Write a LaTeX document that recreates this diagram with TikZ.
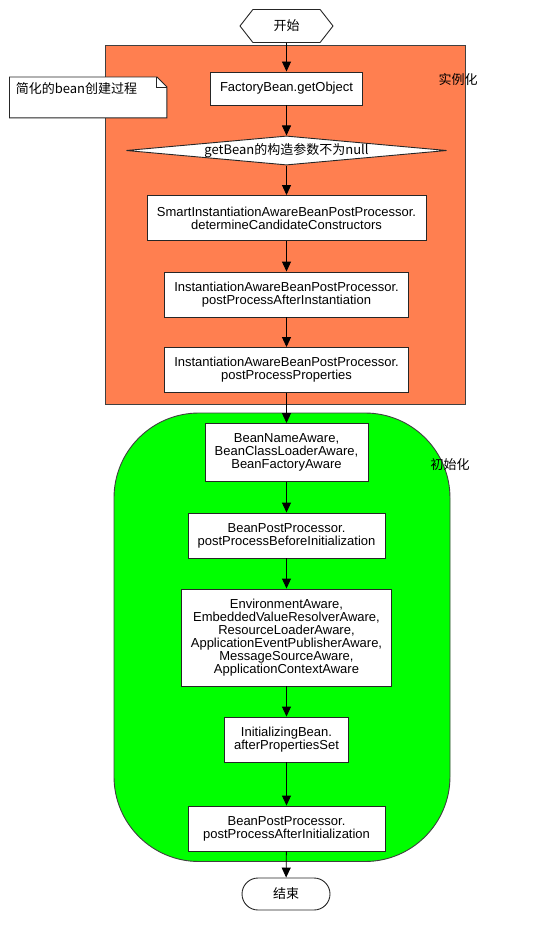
\documentclass[tikz,border=0pt]{standalone}
\usepackage{fontspec}
\setmainfont{Liberation Sans}
\newfontfamily\cjk{Noto Sans CJK SC}
\usetikzlibrary{arrows.meta,shapes.geometric,shapes.symbols,calc}
\definecolor{instorange}{RGB}{255,127,80}
\definecolor{initgreen}{RGB}{0,255,0}

\begin{document}
\begin{tikzpicture}[x=1pt, y=-1pt, >={Triangle[length=10pt,width=9pt]}, font=\fontsize{13}{13}\selectfont, line width=0.9pt]
  \tikzstyle{stepbox}=[draw=black!85, fill=white, align=center, inner sep=0pt]
  \tikzstyle{phase}=[draw=black!75]
  \useasboundingbox (0,0) rectangle (533,950);

  % draw phases
  \draw [phase, fill=instorange] (105.5,45.5) rectangle (465,404.5);
  \draw [phase, fill=initgreen, rounded corners=85] (114,413) rectangle (450,861.5);
  \node (inst) at (458,80) {\cjk 实例化};
  \node (init) at (450,465) {\cjk 初始化};

  % draw note
  \node [anchor=north west, inner sep=0pt, minimum width=156.5, minimum height=40] (note) at (9.5,77) {};
  \draw [draw=black!85, fill=white] (note.north west) -- ($(note.north east)+(-10,0)$) -- ($(note.north east)+(0,10)$) -- (note.south east) -- (note.south west) -- cycle;
  \draw [draw=black!85] ($(note.north east)+(-10,0)$) -- ++(0,10) -- ++(10,0);
  \node [anchor=west] (notetext) at (12,89) {\cjk 简化的bean创建过程};

  % draw steps
  \node [signal, signal to=east and west, signal pointer angle=104, draw=black!85, fill=white, inner sep=0pt, minimum width=93, minimum height=33] (start) at (286.5,26) {\cjk 开始};

  \node [diamond, aspect=11, draw=black!85, fill=white, inner sep=0pt, minimum width=318, minimum height=29] (cond) at (286.5,150.5) {\cjk getBean的构造参数不为null};

  \foreach \n/\y/\w/\h/\t in {
      fob/88.5/152/33/{FactoryBean.getObject},
      smart/218/279/45/{SmartInstantiationAwareBeanPostProcessor.\\determineCandidateConstructors},
      afterinst/294.5/244/45/{InstantiationAwareBeanPostProcessor.\\postProcessAfterInstantiation},
      props/370/244/45/{InstantiationAwareBeanPostProcessor.\\postProcessProperties},
      aware1/452.5/163/58/{BeanNameAware,\\BeanClassLoaderAware,\\BeanFactoryAware},
      before/535.5/197/45/{BeanPostProcessor.\\postProcessBeforeInitialization},
      aware2/637.5/210/97/{EnvironmentAware,\\EmbeddedValueResolverAware,\\ResourceLoaderAware,\\ApplicationEventPublisherAware,\\MessageSourceAware,\\ApplicationContextAware},
      initbean/739.5/124/45/{InitializingBean.\\afterPropertiesSet},
      after/828.5/197/45/{BeanPostProcessor.\\postProcessAfterInitialization}}
  \node [stepbox, minimum width=\w, minimum height=\h] (\n) at (286.5,\y) {\t};

  \node [stepbox, rounded corners=16, minimum width=88, minimum height=32] (stop) at (286,894) {\cjk 结束};

  % draw lines
  \foreach \a/\b in {start/fob, fob/cond, cond/smart, smart/afterinst, afterinst/props, props/aware1, aware1/before, before/aware2, aware2/initbean, initbean/after, after/stop}
  \draw [->] (\a) -- (\b);

\end{tikzpicture}
\end{document}
